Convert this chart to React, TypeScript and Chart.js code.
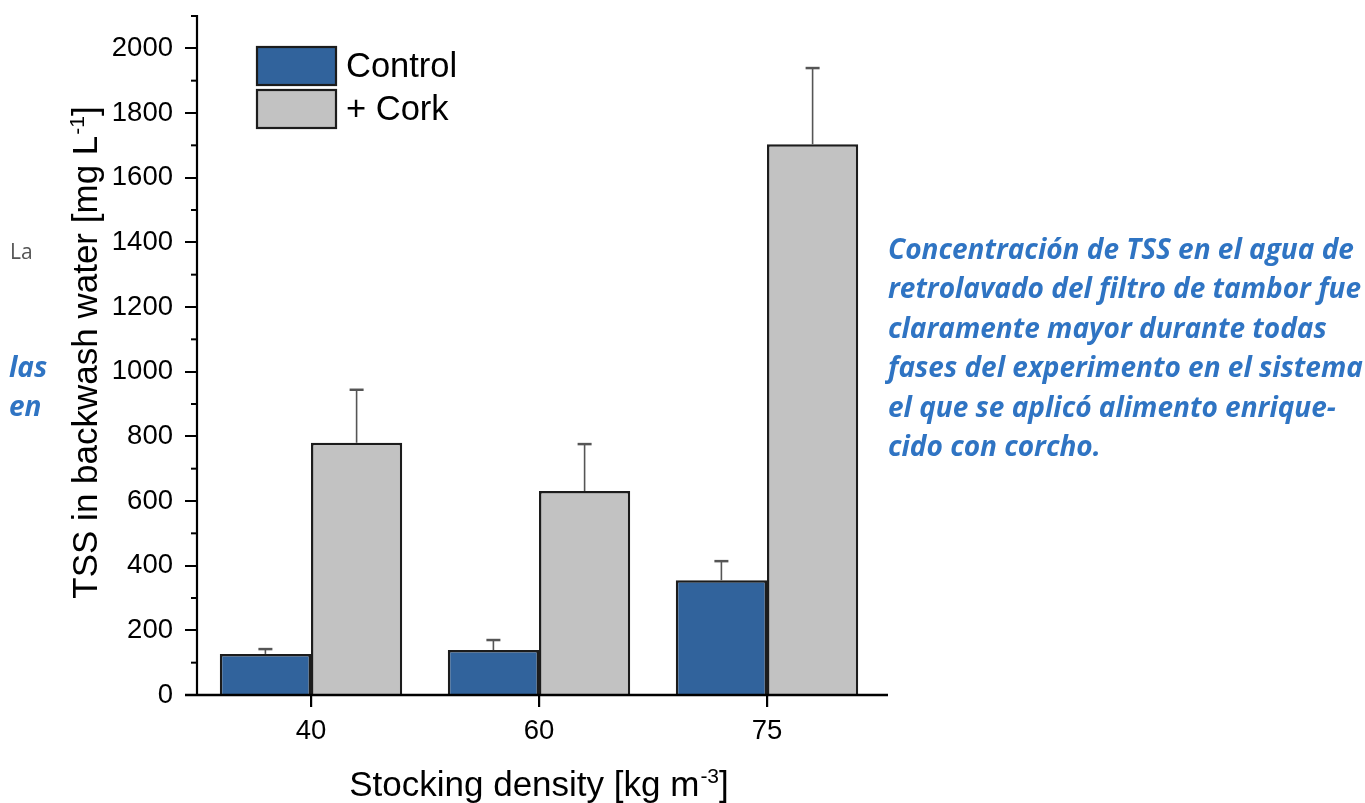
import React, { useEffect, useRef } from "react";
import { Chart, registerables } from "chart.js";

Chart.register(...registerables);

// ---------- data ----------
const categories = ["40", "60", "75"];
const seriesLabels = ["Control", "+ Cork"];
const controlValues = [127, 139, 355];
const controlErrors = [15, 31, 59];
const corkValues = [780, 631, 1703];
const corkErrors = [164, 145, 236];
const yMax = 2100;
const yMajorStep = 200;
const yMinorTicks = [100, 300, 500, 700, 900, 1100, 1300, 1500, 1700, 1900, 2100];

const xTitle = ["Stocking density [kg m", "-3", "]"];
const yTitle = ["TSS in backwash water [mg L", "-1", "]"];

const rightLines = [
  "Concentración de TSS en el agua de",
  "retrolavado del filtro de tambor fue",
  "claramente mayor durante todas",
  "fases del experimento en el sistema",
  "el que se aplicó alimento enrique-",
  "cido con corcho.",
];

const CONTROL_COLOR = "#31639C";
const CORK_COLOR = "#C2C2C2";
const EDGE = "#1c1c1c";
const FONT = '"Liberation Sans", Arial, sans-serif';

function drawRich(ctx: CanvasRenderingContext2D, parts: string[], size: number, cx: number, baseY: number) {
  const mainFont = `${size}px ${FONT}`;
  const supFont = `${Math.round(size * 0.6)}px ${FONT}`;
  ctx.font = mainFont;
  const w0 = ctx.measureText(parts[0]).width;
  const w2 = ctx.measureText(parts[2]).width;
  ctx.font = supFont;
  const w1 = ctx.measureText(parts[1]).width;
  const total = w0 + w1 + w2 + 1;
  let x = cx - total / 2;
  ctx.textAlign = "left";
  ctx.textBaseline = "alphabetic";
  ctx.fillStyle = "#000";
  ctx.font = mainFont;
  ctx.fillText(parts[0], x, baseY);
  x += w0 + 1;
  ctx.font = supFont;
  ctx.fillText(parts[1], x, baseY - size * 0.38);
  x += w1;
  ctx.font = mainFont;
  ctx.fillText(parts[2], x, baseY);
}

const decorPlugin = {
  id: "decor",
  afterDatasetsDraw(chart: any) {
    const ctx: CanvasRenderingContext2D = chart.ctx;
    const y = chart.scales.y;
    chart.data.datasets.forEach((ds: any, di: number) => {
      const meta = chart.getDatasetMeta(di);
      meta.data.forEach((bar: any, i: number) => {
        const top = y.getPixelForValue(ds.data[i] + ds.errors[i]);
        ctx.save();
        ctx.strokeStyle = "#555";
        ctx.lineWidth = 1.6;
        ctx.beginPath();
        ctx.moveTo(bar.x, bar.y);
        ctx.lineTo(bar.x, top);
        ctx.stroke();
        ctx.lineWidth = 2.5;
        ctx.beginPath();
        ctx.moveTo(bar.x - 7, top);
        ctx.lineTo(bar.x + 7, top);
        ctx.stroke();
        ctx.restore();
      });
    });
  },
  afterDraw(chart: any) {
    const ctx: CanvasRenderingContext2D = chart.ctx;
    const { left, right, bottom } = chart.chartArea;
    const y = chart.scales.y;
    ctx.save();
    ctx.strokeStyle = "#000";
    // y axis line
    ctx.lineWidth = 2.2;
    ctx.beginPath();
    ctx.moveTo(left, y.getPixelForValue(yMax) - 1);
    ctx.lineTo(left, bottom);
    ctx.stroke();
    // x axis line (with overhang)
    ctx.lineWidth = 2.5;
    ctx.beginPath();
    ctx.moveTo(left - 12, bottom);
    ctx.lineTo(right + 7, bottom);
    ctx.stroke();
    // minor ticks
    ctx.lineWidth = 2;
    yMinorTicks.forEach((v) => {
      const py = y.getPixelForValue(v);
      ctx.beginPath();
      ctx.moveTo(left - 6, py);
      ctx.lineTo(left, py);
      ctx.stroke();
    });
    // legend
    const lx = left + 60;
    const ly = chart.chartArea.top + 31;
    const bw = 79;
    const bh = 38;
    chart.data.datasets.forEach((ds: any, i: number) => {
      const by = ly + i * 43;
      ctx.fillStyle = ds.backgroundColor;
      ctx.fillRect(lx, by, bw, bh);
      ctx.strokeStyle = EDGE;
      ctx.lineWidth = 2.2;
      ctx.strokeRect(lx, by, bw, bh);
      ctx.fillStyle = "#000";
      ctx.font = `34.5px ${FONT}`;
      ctx.textAlign = "left";
      ctx.textBaseline = "middle";
      ctx.fillText(ds.label, lx + bw + 10, by + bh / 2 + 1);
    });
    // axis titles
    drawRich(ctx, xTitle, 35, (left + right) / 2, 796);
    ctx.save();
    ctx.translate(97, (chart.chartArea.top + bottom) / 2 - 3);
    ctx.rotate(-Math.PI / 2);
    drawRich(ctx, yTitle, 35, 0, 0);
    ctx.restore();
    ctx.restore();
  },
};

export default function App() {
  const canvasRef = useRef<HTMLCanvasElement | null>(null);

  useEffect(() => {
    if (!canvasRef.current) return;
    const chart = new Chart(canvasRef.current, {
      type: "bar",
      data: {
        labels: categories,
        datasets: [
          {
            label: seriesLabels[0],
            data: controlValues,
            errors: controlErrors,
            backgroundColor: CONTROL_COLOR,
            borderColor: EDGE,
            borderWidth: 2.5,
            categoryPercentage: 0.8,
            barPercentage: 1.0,
          } as any,
          {
            label: seriesLabels[1],
            data: corkValues,
            errors: corkErrors,
            backgroundColor: CORK_COLOR,
            borderColor: EDGE,
            borderWidth: 2.5,
            categoryPercentage: 0.8,
            barPercentage: 1.0,
          } as any,
        ],
      },
      options: {
        animation: false,
        responsive: false,
        maintainAspectRatio: false,
        layout: { padding: { left: 0, top: 16, right: 484, bottom: 0 } },
        plugins: {
          legend: { display: false },
          tooltip: { enabled: false },
          title: { display: false },
        },
        scales: {
          x: {
            type: "category",
            offset: true,
            afterFit: (s: any) => {
              s.height = 108;
              s.paddingLeft = 0;
              s.paddingRight = 0;
            },
            grid: {
              display: true,
              offset: false,
              drawOnChartArea: false,
              drawTicks: true,
              tickLength: 12,
              color: "#000",
              lineWidth: 2.2,
            },
            border: { display: false },
            ticks: {
              color: "#000",
              padding: 8,
              font: { family: FONT, size: 27.5 },
              maxRotation: 0,
            },
          },
          y: {
            type: "linear",
            min: 0,
            max: yMax,
            afterFit: (s: any) => {
              s.width = 197;
              s.paddingTop = 0;
              s.paddingBottom = 0;
            },
            grid: {
              display: true,
              drawOnChartArea: false,
              drawTicks: true,
              tickLength: 12,
              color: "#000",
              lineWidth: 2,
            },
            border: { display: false },
            ticks: {
              stepSize: yMajorStep,
              includeBounds: false,
              color: "#000",
              padding: 12,
              font: { family: FONT, size: 27.5 },
              callback: (v: any) => String(v),
            },
          },
        },
      } as any,
      plugins: [decorPlugin],
    });
    return () => chart.destroy();
  }, []);

  const blueText: React.CSSProperties = {
    position: "absolute",
    color: "#2F74C3",
    fontFamily: '"Open Sans", "Noto Sans", sans-serif',
    fontWeight: 700,
    fontStyle: "italic",
    fontSize: 28,
    lineHeight: "39.4px",
    whiteSpace: "nowrap",
  };

  return (
    <div
      style={{
        position: "fixed",
        left: 0,
        top: 0,
        width: 1365,
        height: 803,
        background: "#fff",
        overflow: "hidden",
      }}
    >
      <canvas ref={canvasRef} width={1365} height={803} style={{ position: "absolute", left: 0, top: 0 }} />
      <div
        style={{
          position: "absolute",
          left: 10,
          top: 239,
          color: "#555",
          fontFamily: '"Open Sans", sans-serif',
          fontSize: 21,
          lineHeight: "24px",
        }}
      >
        La
      </div>
      <div style={{ ...blueText, left: 9, top: 347 }}>
        las
        <br />
        en
      </div>
      <div style={{ ...blueText, left: 888, top: 229 }}>
        {rightLines.map((l, i) => (
          <div key={i}>{l}</div>
        ))}
      </div>
    </div>
  );
}
